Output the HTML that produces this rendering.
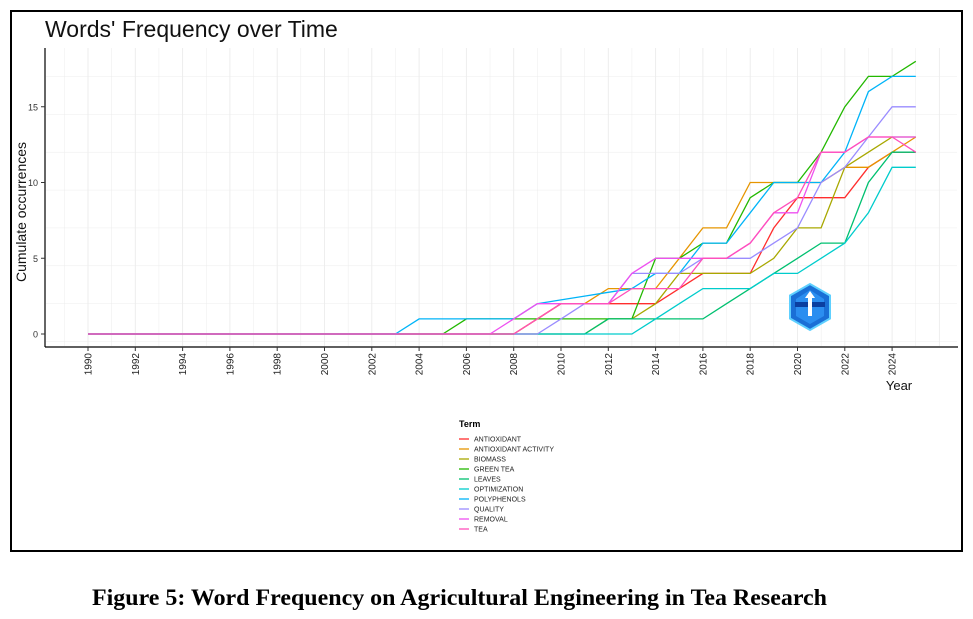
<!DOCTYPE html>
<html><head><meta charset="utf-8"><style>
html,body{margin:0;padding:0;background:#fff;width:973px;height:619px;overflow:hidden}
</style></head><body>
<svg id="s" width="973" height="619" xmlns="http://www.w3.org/2000/svg" font-family="Liberation Sans, sans-serif">
<rect x="11" y="11" width="951" height="540" fill="#fff" stroke="#000" stroke-width="2"/>
<text x="45" y="37" font-size="23" fill="#111">Words' Frequency over Time</text>
<g id="grid"></g>
<g id="lines" fill="none" stroke-width="1.3"></g>
<line x1="45" y1="48" x2="45" y2="347" stroke="#000" stroke-width="1.2"/>
<line x1="45" y1="347" x2="958" y2="347" stroke="#000" stroke-width="1.2"/>
<g id="ticks"></g>
<text x="0" y="0" font-size="14" fill="#111" transform="translate(26,212) rotate(-90)" text-anchor="middle">Cumulate occurrences</text>
<text x="899" y="390" font-size="13" fill="#111" text-anchor="middle">Year</text>
<g transform="translate(810,307)">
<polygon points="0,-23 20,-11.5 20,11.5 0,23 -20,11.5 -20,-11.5" fill="#1a6fd6" stroke="#5fd0ff" stroke-width="2"/>
<polygon points="0,-17 14,-8 14,9 0,17 -14,9 -14,-8" fill="#2b8ef0"/>
<rect x="-15" y="-5" width="30" height="5" fill="#0b3fa0"/>
<path d="M0,-16 L-5,-9 L5,-9Z M-2,-9 h4 v18 h-4Z" fill="#fff"/>
</g>
<g id="legend" font-size="7" fill="#222"></g>
<text x="92" y="605" font-family="Liberation Serif, serif" font-weight="bold" font-size="23" textLength="735" lengthAdjust="spacingAndGlyphs">Figure 5: Word Frequency on Agricultural Engineering in Tea Research</text>
</svg>
<script>
var NS="http://www.w3.org/2000/svg";
function el(p,t,a,txt){var e=document.createElementNS(NS,t);for(var k in a)e.setAttribute(k,a[k]);if(txt!=null)e.textContent=txt;document.getElementById(p).appendChild(e);return e;}
function X(y){return 88+(y-1990)*23.65;}
function Y(v){return 334-v*15.15;}
for(var y=1989;y<=2027;y++){var x=X(y);if(x<46||x>957)continue;el("grid","line",{x1:x,y1:48,x2:x,y2:346,stroke:"#ececec","stroke-width":y%2==0?0.9:0.5});}
for(var v=-0.5;v<=18.5;v+=2.5){var yy=Y(v);if(yy<48||yy>346)continue;el("grid","line",{x1:46,y1:yy,x2:957,y2:yy,stroke:"#ececec","stroke-width":(v%5==0)?0.9:0.5});}
[0,5,10,15].forEach(function(v){el("ticks","line",{x1:41,y1:Y(v),x2:45,y2:Y(v),stroke:"#333"});el("ticks","text",{x:38,y:Y(v)+3.5,"font-size":"9","text-anchor":"end",fill:"#333"},v);});
for(var y=1990;y<=2024;y+=2){var x=X(y);el("ticks","line",{x1:x,y1:347,x2:x,y2:351,stroke:"#333"});el("ticks","text",{"font-size":"10",fill:"#222","text-anchor":"end",transform:"translate("+(x+3.5)+",353) rotate(-90)"},y);}
var S=[
["ANTIOXIDANT","#FF2E2E",{2008:0,2009:1,2010:2,2014:2,2015:3,2016:4,2018:4,2019:7,2020:9,2022:9,2023:11,2024:12,2025:12}],
["ANTIOXIDANT ACTIVITY","#E69500",{2008:0,2009:1,2010:2,2011:2,2012:3,2014:3,2015:5,2016:7,2017:7,2018:10,2019:10,2021:10,2022:11,2023:11,2024:12,2025:13}],
["BIOMASS","#A8A800",{2011:0,2012:1,2013:1,2014:2,2015:4,2018:4,2019:5,2020:7,2021:7,2022:11,2023:12,2024:13,2025:13}],
["GREEN TEA","#22B800",{2005:0,2006:1,2013:1,2014:5,2015:5,2016:6,2017:6,2018:9,2019:10,2020:10,2021:12,2022:15,2023:17,2024:17,2025:18}],
["LEAVES","#00C070",{2011:0,2012:1,2016:1,2018:3,2019:4,2020:5,2021:6,2022:6,2023:10,2024:12,2025:12}],
["OPTIMIZATION","#00CCCC",{2013:0.0,2014:1,2015:2,2016:3,2018:3,2019:4,2020:4,2021:5,2022:6,2023:8,2024:11,2025:11}],
["POLYPHENOLS","#00B4F8",{2003:0,2004:1,2008:1,2009:2,2013:3,2014:4,2015:4,2016:6,2017:6,2019:10,2021:10,2022:12,2023:16,2024:17,2025:17}],
["QUALITY","#9A8CFF",{2009:0,2010:1,2011:2,2012:2,2013:4,2015:4,2016:5,2018:5,2019:6,2020:7,2021:10,2022:11,2023:13,2024:15,2025:15}],
["REMOVAL","#EE50F0",{2007:0,2008:1,2009:2,2012:2,2013:4,2014:5,2017:5,2018:6,2019:8,2020:8,2021:12,2022:12,2023:13,2025:13}],
["TEA","#FF50BB",{2008:0,2009:1,2010:2,2012:2,2013:3,2015:3,2016:5,2017:5,2018:6,2019:8,2020:9,2021:12,2022:12,2023:13,2024:13,2025:12}]
];
S.forEach(function(s,i){
 var d=s[2],keys=Object.keys(d).map(Number).sort(function(a,b){return a-b});
 var pts=[],val={};
 for(var k=0;k<keys.length-1;k++){var a=keys[k],b=keys[k+1];for(var y=a;y<b;y++)val[y]=d[a]+(d[b]-d[a])*(y-a)/(b-a);}
 val[keys[keys.length-1]]=d[keys[keys.length-1]];
 var last=0;
 for(var y=1990;y<=2025;y++){if(val[y]!==undefined)last=val[y];else if(y>keys[keys.length-1])last=d[keys[keys.length-1]];else if(y<keys[0])last=0;pts.push(X(y).toFixed(1)+","+Y(last).toFixed(1));}
 el("lines","polyline",{points:pts.join(" "),stroke:s[1]});
 var ly=439+i*10;
 el("legend","line",{x1:459,y1:ly,x2:469,y2:ly,stroke:s[1],"stroke-width":1.3});
 el("legend","text",{x:474,y:ly+2.5},s[0]);
});
el("legend","text",{x:459,y:427,"font-size":"9","font-weight":"bold",fill:"#000"},"Term");
</script>
</body></html>
